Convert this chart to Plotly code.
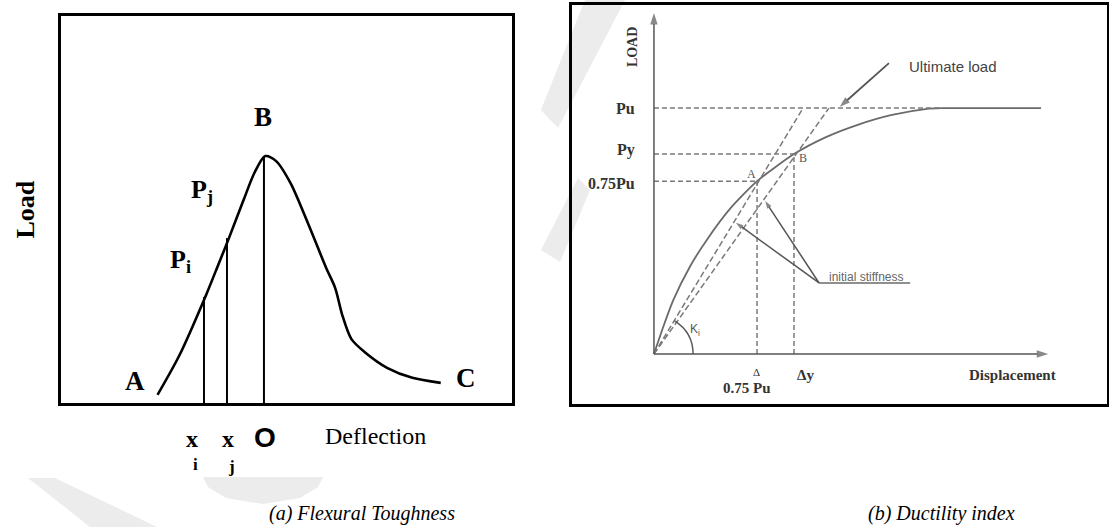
import plotly.graph_objects as go

W, H = 1109, 527

# ---------------- (a) Flexural toughness data ----------------
defl = [2.14, 2.62, 3.22, 3.49, 3.73, 4.05, 4.29, 4.53, 4.77, 5.09, 5.48, 5.88, 6.08, 6.24, 6.44, 6.75, 7.23, 7.79, 8.42]
load_a = [0.21, 1.22, 2.80, 3.58, 4.28, 5.25, 5.95, 6.38, 6.25, 5.68, 4.63, 3.49, 2.97, 2.26, 1.65, 1.30, 0.91, 0.65, 0.52]
drop_x = [3.17, 3.68, 4.50]          # x_i, x_j, O
drop_top = [2.74, 4.26, 6.38]        # P_i, P_j, peak

# ---------------- (b) Ductility index data ----------------
disp = [0, 0.038, 0.079, 0.146, 0.214, 0.313, 0.419, 0.569, 0.699, 0.825, 0.967, 1.110, 1.167]
load_b = [0, 0.111, 0.22, 0.355, 0.463, 0.595, 0.703, 0.813, 0.882, 0.931, 0.972, 0.997, 1.0]
plateau_x = [1.167, 1.573]
Pu, Py, P75 = 1.0, 0.813, 0.703
dA, dY = 0.419, 0.569              # displacement at 0.75Pu and yield
stiff_end = [0.606, 0.711]         # secant lines reaching Pu
axis_len = [1.602, 1.386]          # arrowed axes (x, y)

fig = go.Figure()

# ---- left panel traces
fig.add_trace(go.Scatter(x=defl, y=load_a, mode="lines", line=dict(color="black", width=2.6, shape="spline", smoothing=0.8),
                         xaxis="x", yaxis="y", hoverinfo="skip"))
vx, vy = [], []
for x, t in zip(drop_x, drop_top):
    vx += [x, x, None]
    vy += [0, t, None]
fig.add_trace(go.Scatter(x=vx, y=vy, mode="lines", line=dict(color="black", width=2), xaxis="x", yaxis="y", hoverinfo="skip"))

# ---- right panel traces
g = "#6a6a6a"
fig.add_trace(go.Scatter(x=disp, y=load_b, mode="lines", line=dict(color=g, width=1.8, shape="spline", smoothing=0.6),
                         xaxis="x2", yaxis="y2", hoverinfo="skip"))
fig.add_trace(go.Scatter(x=plateau_x, y=[Pu, Pu], mode="lines", line=dict(color=g, width=1.8), xaxis="x2", yaxis="y2", hoverinfo="skip"))
# dashed guide lines
dx = [0, plateau_x[0], None, 0, dY, None, 0, dA, None, dA, dA, None, dY, dY, None]
dy = [Pu, Pu, None, Py, Py, None, P75, P75, None, 0, P75, None, 0, Py, None]
fig.add_trace(go.Scatter(x=dx, y=dy, mode="lines", line=dict(color="#7a7a7a", width=1.5, dash="5px,3px"),
                         xaxis="x2", yaxis="y2", hoverinfo="skip"))
sx, sy = [], []
for e in stiff_end:
    sx += [0, e, None]
    sy += [0, Pu, None]
fig.add_trace(go.Scatter(x=sx, y=sy, mode="lines", line=dict(color="#7a7a7a", width=1.5, dash="6px,3px"),
                         xaxis="x2", yaxis="y2", hoverinfo="skip"))
# underline of "initial stiffness"
fig.add_trace(go.Scatter(x=[0.671, 1.041], y=[0.289, 0.289], mode="lines", line=dict(color="#6a6a6a", width=1.6),
                         xaxis="x2", yaxis="y2", hoverinfo="skip"))


def arrow(x0, y0, x1, y1, color="#555", width=1.6, size=10):
    fig.add_trace(go.Scatter(x=[x0, x1], y=[y0, y1], mode="lines+markers", xaxis="x2", yaxis="y2", hoverinfo="skip",
                             line=dict(color=color, width=width),
                             marker=dict(symbol="arrow", angleref="previous", size=[0, size], color=color,
                                         line=dict(width=0))))


arrow(0, 0, 0, axis_len[1], width=1.5, size=12)
arrow(0, 0, axis_len[0], 0, width=1.5, size=12)
arrow(0.955, 1.183, 0.755, 1.005, width=1.8, size=11)
arrow(0.671, 0.289, 0.333, 0.534, width=1.5, size=8)
arrow(0.671, 0.289, 0.452, 0.622, width=1.5, size=8)

serif = "Liberation Serif"
ann = []


def lab(text, x, y, size=27, xref="x", yref="y", bold=True, angle=0, family=serif, color="black", xanchor="center"):
    ann.append(dict(text=("<b>%s</b>" % text) if bold else text, x=x, y=y, xref=xref, yref=yref, showarrow=False,
                    font=dict(family=family, size=size, color=color), textangle=angle, xanchor=xanchor, yanchor="middle"))


# left panel labels
lab("B", 4.48, 7.39)
lab("P<sub>j</sub>", 3.13, 5.48, size=26)
lab("P<sub>i</sub>", 2.64, 3.67, size=26)
lab("A", 1.64, 0.57)
lab("C", 8.98, 0.65)
lab("Load", 25 / W, 0.50, size=26, xref="paper", yref="y domain", angle=-90)
lab("x", 2.90, -0.092, size=24, yref="y domain")
lab("i", 2.98, -0.160, size=17, yref="y domain")
lab("x", 3.70, -0.092, size=24, yref="y domain")
lab("j", 3.79, -0.163, size=17, yref="y domain")
lab("O", 4.52, -0.090, size=28, yref="y domain", family="Liberation Sans")
lab("Deflection", 6.98, -0.085, size=24, yref="y domain", bold=False)

# right panel labels
tc = "#333333"
lab("LOAD", -0.089, 1.248, size=14, xref="x2", yref="y2", angle=-90, color=tc)
lab("Pu", -0.069, Pu, size=16, xref="x2", yref="y2", color=tc, xanchor="right")
lab("Py", -0.069, Py + 0.015, size=16, xref="x2", yref="y2", color=tc, xanchor="right")
lab("0.75Pu", -0.069, P75 - 0.01, size=16, xref="x2", yref="y2", color=tc, xanchor="right")
lab("Δ", 0.415, -0.073, size=11, xref="x2", yref="y2", bold=False, color=tc)
lab("0.75 Pu", 0.378, -0.138, size=15, xref="x2", yref="y2", color=tc)
lab("Δy", 0.614, -0.085, size=15, xref="x2", yref="y2", color=tc)
lab("Displacement", 1.459, -0.085, size=15, xref="x2", yref="y2", color=tc)
lab("A", 0.398, 0.732, size=12, xref="x2", yref="y2", bold=False, color="#555")
lab("B", 0.606, 0.797, size=12, xref="x2", yref="y2", bold=False, color="#555")
lab("K<sub>i</sub>", 0.167, 0.098, size=12, xref="x2", yref="y2", bold=False, color="#555", family="Liberation Sans")
lab("Ultimate load", 1.215, 1.167, size=15, xref="x2", yref="y2", bold=False, color="#444", family="Liberation Sans")
lab("initial stiffness", 0.862, 0.313, size=12, xref="x2", yref="y2", bold=False, color="#666", family="Liberation Sans")

# captions
lab("<i>(a) Flexural Toughness</i>", 362 / W, 1 - 513 / H, size=20, xref="paper", yref="paper", bold=False)
lab("<i>(b) Ductility index</i>", 941 / W, 1 - 513 / H, size=20, xref="paper", yref="paper", bold=False)

fig.update_layout(annotations=ann)

# Ki arc
shapes = [dict(type="path", xref="x2", yref="y2", path="M 0.159,0 Q 0.159,0.088 0.084,0.135",
               line=dict(color="#555", width=1.4))]


# faint watermark shapes (paper pixels)
def poly(pts):
    p = "M " + " L ".join("%.4f,%.4f" % (x / W, 1 - y / H) for x, y in pts) + " Z"
    return dict(type="path", xref="paper", yref="paper", path=p, fillcolor="#ececec", line=dict(width=0), layer="below")


shapes += [
    poly([(28, 478), (55, 478), (157, 527), (90, 527)]),
    poly([(585, 0), (625, 0), (558, 128), (541, 110)]),
    poly([(578, 178), (590, 190), (560, 262), (541, 250)]),
    poly([(203, 477), (323, 477), (318, 487), (300, 498), (263, 504), (226, 498), (208, 487)]),
]
fig.update_layout(shapes=shapes)

ax_common = dict(showline=True, mirror=True, linecolor="black", linewidth=3, showticklabels=False, ticks="",
                 showgrid=False, zeroline=False, fixedrange=True)
fig.update_layout(
    width=W, height=H, margin=dict(l=0, r=0, t=0, b=0), paper_bgcolor="white", plot_bgcolor="rgba(0,0,0,0)",
    showlegend=False,
    xaxis=dict(domain=[61 / W, 512 / W], range=[0, 10], anchor="y", **ax_common),
    yaxis=dict(domain=[1 - 403 / H, 1 - 16 / H], range=[0, 10], anchor="x", **ax_common),
    xaxis2=dict(domain=[572 / W, 1107 / W], range=[-0.333, 1.841], anchor="y2", **ax_common),
    yaxis2=dict(domain=[1 - 404 / H, 1 - 5 / H], range=[-0.203, 1.419], anchor="x2", **ax_common),
)

fig.write_html("out.html")
